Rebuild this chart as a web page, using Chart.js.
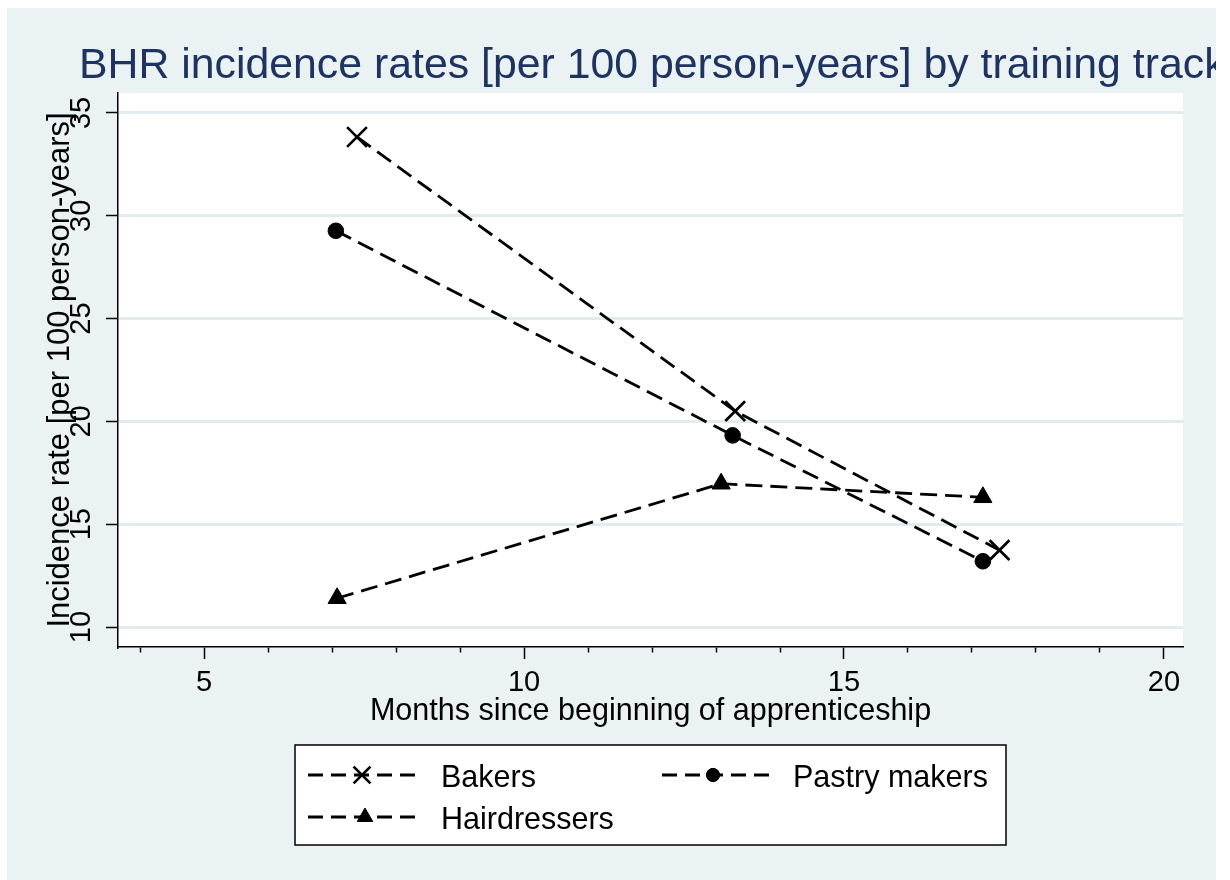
<!DOCTYPE html>
<html>
<head>
<meta charset="utf-8">
<script src="https://cdn.jsdelivr.net/npm/chart.js"></script>
<style>
html, body { margin: 0; padding: 0; background: #ffffff; }
#panel { position: absolute; left: 7px; top: 8px; width: 1209px; height: 872px; background: rgb(234,242,243); overflow: hidden; }
canvas { display: block; }
</style>
</head>
<body>
<div id="panel"><canvas id="c" width="1209" height="872"></canvas></div>
<script>
// ---- data ----
const titleText = 'BHR incidence rates [per 100 person-years] by training track';
const xTitle = 'Months since beginning of apprenticeship';
const yTitle = 'Incidence rate [per 100 person-years]';
const seriesNames = ['Bakers', 'Pastry makers', 'Hairdressers'];
const bakersMonths = [7.39, 13.30, 17.43];
const bakersRate   = [33.83, 20.50, 13.74];
const pastryMonths = [7.06, 13.26, 17.17];
const pastryRate   = [29.27, 19.32, 13.20];
const hairMonths   = [7.08, 13.08, 17.17];
const hairRate     = [11.40, 16.97, 16.31];
const xTicks = [4, 5, 6, 7, 8, 9, 10, 11, 12, 13, 14, 15, 16, 17, 18, 19, 20];
const xTickLabels = [5, 10, 15, 20];
const yTicks = [10, 15, 20, 25, 30, 35];

// ---- styles ----
const FONT = '"Liberation Sans", Arial, Helvetica, sans-serif';
const NAVY = 'rgb(31,51,96)';
const GRID = 'rgb(226,236,239)';
const DASH = [17, 8];
const LINE_W = 2.8;

function pts(xs, ys) { return xs.map((x, i) => ({ x: x, y: ys[i] })); }

const markerStyles = [
  { pointStyle: 'crossRot', pointRadius: 14, pointBorderWidth: 2.7 },
  { pointStyle: 'circle', pointRadius: 7.8, pointBorderWidth: 1 },
  { pointStyle: 'triangle', pointRadius: 10.5, pointBorderWidth: 1 }
];
const seriesData = [pts(bakersMonths, bakersRate), pts(pastryMonths, pastryRate), pts(hairMonths, hairRate)];

const datasets = seriesNames.map((name, i) => Object.assign({
  label: name,
  data: seriesData[i],
  showLine: true,
  borderColor: '#000',
  backgroundColor: '#000',
  pointBackgroundColor: '#000',
  pointBorderColor: '#000',
  borderWidth: LINE_W,
  borderDash: DASH,
  tension: 0,
  fill: false,
  clip: false
}, markerStyles[i]));

const plotBg = {
  id: 'plotBg',
  beforeDraw(chart) {
    const { ctx, chartArea: a } = chart;
    ctx.save();
    ctx.fillStyle = '#ffffff';
    ctx.fillRect(a.left, a.top, a.right - a.left, a.bottom - a.top);
    ctx.restore();
  }
};

const titlePlugin = {
  id: 'bigTitle',
  afterDraw(chart) {
    const ctx = chart.ctx;
    ctx.save();
    ctx.font = '42.8px ' + FONT;
    ctx.fillStyle = NAVY;
    ctx.textBaseline = 'alphabetic';
    ctx.textAlign = 'left';
    ctx.fillText(titleText, 72, 70);
    ctx.restore();
  }
};

function drawMarker(ctx, style, x, y, scale) {
  if (Chart.helpers && Chart.helpers.drawPoint) {
    Chart.helpers.drawPoint(ctx, { pointStyle: style.pointStyle, radius: style.pointRadius * scale, rotation: 0, borderWidth: style.pointBorderWidth }, x, y);
  }
}

const legendPlugin = {
  id: 'boxLegend',
  afterDraw(chart) {
    const ctx = chart.ctx;
    const box = { x: 288, y: 737, w: 711, h: 100 };
    const slots = [
      { lx: 301, mx: 355, tx: 434, y: 767 },
      { lx: 655, mx: 706, tx: 786, y: 767 },
      { lx: 301, mx: 358, tx: 434, y: 809 }
    ];
    ctx.save();
    ctx.fillStyle = '#ffffff';
    ctx.fillRect(box.x, box.y, box.w, box.h);
    ctx.strokeStyle = '#000';
    ctx.lineWidth = 1.5;
    ctx.setLineDash([]);
    ctx.strokeRect(box.x, box.y, box.w, box.h);
    chart.data.datasets.forEach((ds, i) => {
      const s = slots[i];
      ctx.save();
      ctx.strokeStyle = '#000';
      ctx.lineWidth = LINE_W;
      ctx.setLineDash([15, 8]);
      ctx.beginPath();
      ctx.moveTo(s.lx, s.y);
      ctx.lineTo(s.lx + 112, s.y);
      ctx.stroke();
      ctx.restore();
      ctx.save();
      ctx.setLineDash([]);
      ctx.fillStyle = '#000';
      ctx.strokeStyle = '#000';
      ctx.lineWidth = ds.pointBorderWidth;
      drawMarker(ctx, ds, s.mx, s.y, 0.85);
      ctx.restore();
      ctx.fillStyle = '#000';
      ctx.font = '30.5px ' + FONT;
      ctx.textBaseline = 'alphabetic';
      ctx.textAlign = 'left';
      ctx.fillText(ds.label, s.tx, s.y + 12);
    });
    ctx.restore();
  }
};

new Chart(document.getElementById('c'), {
  type: 'scatter',
  data: { datasets: datasets },
  plugins: [plotBg, titlePlugin, legendPlugin],
  options: {
    responsive: false,
    animation: false,
    devicePixelRatio: 1,
    layout: { padding: { left: 0, top: 85, right: 33, bottom: 0 } },
    plugins: { legend: { display: false }, title: { display: false }, tooltip: { enabled: false } },
    scales: {
      x: {
        type: 'linear',
        min: 3.656,
        max: 20.297,
        afterBuildTicks: s => { s.ticks = xTicks.map(v => ({ value: v })); },
        afterFit: s => { s.height = 233; },
        grid: {
          drawOnChartArea: false,
          drawTicks: true,
          tickLength: 12,
          tickColor: '#000',
          tickWidth: 1.5,
          tickBorderDash: c => (c.tick && xTickLabels.includes(c.tick.value)) ? [] : [5, 100]
        },
        border: { display: true, color: '#000', width: 1.5 },
        ticks: {
          autoSkip: false,
          maxRotation: 0,
          minRotation: 0,
          padding: 7,
          color: '#000',
          font: { family: FONT, size: 29 },
          callback: v => xTickLabels.includes(v) ? String(v) : ''
        },
        title: { display: true, text: xTitle, color: '#000', font: { family: FONT, size: 30.5 }, padding: { top: 0, bottom: 150 } }
      },
      y: {
        type: 'linear',
        min: 9.03,
        max: 35.97,
        afterBuildTicks: s => { s.ticks = yTicks.map(v => ({ value: v })); },
        afterFit: s => { s.width = 111; },
        grid: {
          color: GRID,
          lineWidth: 3,
          drawTicks: true,
          tickLength: 12,
          tickColor: '#000',
          tickWidth: 1.5
        },
        border: { display: true, color: '#000', width: 1.5 },
        ticks: {
          minRotation: 90,
          maxRotation: 90,
          crossAlign: 'center',
          padding: 8,
          color: '#000',
          font: { family: FONT, size: 29 }
        },
        title: { display: true, text: yTitle, color: '#000', font: { family: FONT, size: 31 }, padding: { top: 35, bottom: 0 } }
      }
    }
  }
});
</script>
</body>
</html>
